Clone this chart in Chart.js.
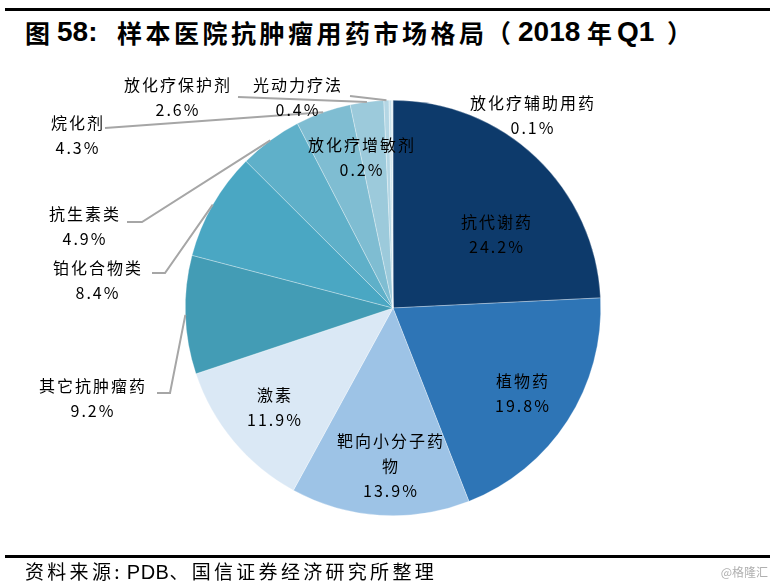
<!DOCTYPE html>
<html>
<head>
<meta charset="utf-8">
<script src="https://cdn.jsdelivr.net/npm/chart.js@4.4.1/dist/chart.umd.min.js"></script>
<style>
  html, body { margin: 0; padding: 0; background: #fff; }
  #wrap { position: relative; width: 776px; height: 584px; overflow: hidden; font-family: "Noto Sans CJK SC", sans-serif; }
  #chart { position: absolute; left: 0; top: 0; }
  .rule { position: absolute; left: 5px; width: 765px; background: #000; }
  .t { position: absolute; white-space: nowrap; font-weight: bold; color: #000; }
  .cjk { font-size: 25px; line-height: 25px; top: 20px; letter-spacing: 3.5px; }
  .lat { font-family: "Liberation Sans", Arial, sans-serif; font-size: 28px; line-height: 28px; top: 18px; }
  #source { position: absolute; left: 25px; top: 558px; font-size: 19px; line-height: 26px; letter-spacing: 3.3px; color: #000; white-space: nowrap; }
  #source .num { font-family: "Liberation Sans", Arial, sans-serif; font-size: 20px; letter-spacing: 0.5px; margin-left: 4px; }
  #mark { position: absolute; right: 8px; top: 563px; font-size: 12px; color: #b0b0b0; }
</style>
</head>
<body>
<div id="wrap">
  <div class="rule" style="top:8px;height:3px;"></div>
  <span class="t cjk" style="left:25px">图</span>
  <span class="t lat" style="left:57px">58:</span>
  <span class="t cjk" style="left:117px">样本医院抗肿瘤用药市场格局</span>
  <span class="t cjk" style="left:486px">（</span>
  <span class="t lat" style="left:518px">2018</span>
  <span class="t cjk" style="left:587px">年</span>
  <span class="t lat" style="left:617px">Q1</span>
  <span class="t cjk" style="left:667px">）</span>
  <canvas id="chart" width="776" height="584"></canvas>
  <div class="rule" style="top:555px;height:3px;"></div>
  <div id="source">资料来源:<span class="num">PDB</span>、国信证券经济研究所整理</div>
  <div id="mark">@格隆汇</div>
</div>
<script>
// slices clockwise from 12 o'clock
const categories = ["抗代谢药", "植物药", "靶向小分子药物", "激素", "其它抗肿瘤药", "铂化合物类",
  "抗生素类", "烷化剂", "放化疗保护剂", "光动力疗法", "放化疗增敏剂", "放化疗辅助用药"];
const shares = [24.2, 19.8, 13.9, 11.9, 9.2, 8.4, 4.9, 4.3, 2.6, 0.4, 0.2, 0.1];
const colors = ["#0d3a6b", "#2e75b6", "#9dc3e6", "#dae8f5", "#439cb5", "#4aa7c3",
  "#5fb0c9", "#7fbdd2", "#9ccadb", "#b4d6e4", "#c9e2ec", "#deedf4"];

// label layout: text lines, centre x, first line y, optional leader start points
const labelLayout = [
  { lines: ["抗代谢药"], x: 496, y: 222 },
  { lines: ["植物药"], x: 522, y: 381 },
  { lines: ["靶向小分子药", "物"], x: 390, y: 441 },
  { lines: ["激素"], x: 274, y: 395 },
  { lines: ["其它抗肿瘤药"], x: 92, y: 386, leader: [[157, 393], [170, 393]] },
  { lines: ["铂化合物类"], x: 97, y: 268, leader: [[152, 273], [165, 273]] },
  { lines: ["抗生素类"], x: 84, y: 214, leader: [[127, 222], [142, 222]] },
  { lines: ["烷化剂"], x: 77, y: 123, leader: [[105, 128]] },
  { lines: ["放化疗保护剂"], x: 177, y: 85, leader: [[238, 97]] },
  { lines: ["光动力疗法"], x: 297, y: 85, leader: [[350, 96]] },
  { lines: ["放化疗增敏剂"], x: 361, y: 145 },
  { lines: ["放化疗辅助用药"], x: 532, y: 103 }
];

const labelPlugin = {
  id: "pieLabels",
  afterDraw(chart) {
    const ctx = chart.ctx;
    const arcs = chart.getDatasetMeta(0).data;
    ctx.save();
    // leader lines to the middle of each slice's rim
    ctx.strokeStyle = "#a6a6a6";
    ctx.lineWidth = 2;
    labelLayout.forEach((lab, i) => {
      if (!lab.leader) return;
      const a = arcs[i];
      const mid = (a.startAngle + a.endAngle) / 2;
      const ex = a.x + Math.cos(mid) * a.outerRadius;
      const ey = a.y + Math.sin(mid) * a.outerRadius;
      ctx.beginPath();
      ctx.moveTo(lab.leader[0][0], lab.leader[0][1]);
      for (let k = 1; k < lab.leader.length; k++) ctx.lineTo(lab.leader[k][0], lab.leader[k][1]);
      ctx.lineTo(ex, ey);
      ctx.stroke();
    });
    // texts
    ctx.fillStyle = "#000";
    ctx.textAlign = "center";
    ctx.textBaseline = "middle";
    ctx.font = '16px "Noto Sans CJK SC"';
    ctx.letterSpacing = "2px";
    labelLayout.forEach((lab, i) => {
      let y = lab.y;
      lab.lines.forEach(t => { ctx.fillText(t, lab.x + 1, y); y += 25; });
      ctx.fillText(shares[i].toFixed(1) + "%", lab.x + 1, y);
    });
    ctx.restore();
  }
};

new Chart(document.getElementById("chart"), {
  type: "pie",
  data: {
    labels: categories,
    datasets: [{
      data: shares,
      backgroundColor: colors,
      borderColor: "rgba(255,255,255,0.6)",
      borderWidth: 0.5
    }]
  },
  options: {
    responsive: false,
    animation: false,
    layout: { padding: { left: 185, right: 175, top: 100, bottom: 68 } },
    plugins: {
      legend: { display: false },
      tooltip: { enabled: false }
    }
  },
  plugins: [labelPlugin]
});
</script>
</body>
</html>
